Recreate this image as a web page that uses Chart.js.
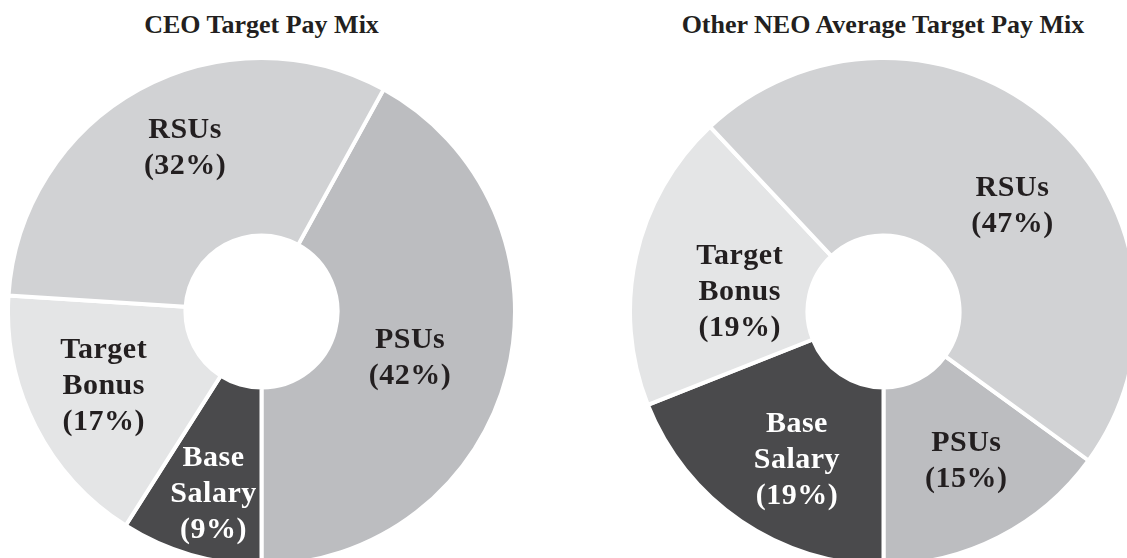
<!DOCTYPE html>
<html>
<head>
<meta charset="utf-8">
<script src="https://cdn.jsdelivr.net/npm/chart.js@4.4.1/dist/chart.umd.min.js"></script>
<style>
  html, body { margin: 0; padding: 0; background: #fff; overflow: hidden; }
  body { width: 1127px; height: 558px; position: relative; }
  .title {
    position: absolute; top: 12px; width: 600px; margin-left: -300px;
    text-align: center; font: bold 26px "Liberation Serif", "Times New Roman", serif;
    line-height: 26px; color: #231f20; white-space: nowrap;
  }
  canvas { position: absolute; }
</style>
</head>
<body>
<div class="title" style="left:261.5px">CEO Target Pay Mix</div>
<div class="title" style="left:883px">Other NEO Average Target Pay Mix</div>
<canvas id="ceoChart" width="511" height="511" style="left:6px;top:56px"></canvas>
<canvas id="neoChart" width="511" height="511" style="left:628px;top:56px"></canvas>
<script>
// pay components, clockwise from the bottom-left of the PSU slice
const components = ["PSUs", "Base Salary", "Target Bonus", "RSUs"];
const ceoMix = [42, 9, 17, 32];
const neoMix = [15, 19, 19, 47];

const sliceColors = ["#bcbdc0", "#4a4a4c", "#e4e5e6", "#d1d2d4"];
const textColors = ["#231f20", "#ffffff", "#231f20", "#231f20"];

// draws "Name\n(xx%)" inside each slice, anchored on the slice's centre point
const sliceLabels = {
  id: "sliceLabels",
  afterDatasetsDraw(chart, args, opts) {
    const ctx = chart.ctx;
    const ds = chart.data.datasets[0];
    const meta = chart.getDatasetMeta(0);
    ctx.save();
    ctx.font = opts.font;
    ctx.textAlign = "center";
    ctx.textBaseline = "middle";
    if ("letterSpacing" in ctx) ctx.letterSpacing = opts.letterSpacing;
    meta.data.forEach((arc, i) => {
      const p = arc.tooltipPosition();
      const nudge = opts.nudge[i] || [0, 0];
      const lines = chart.data.labels[i].split(" ");
      lines.push("(" + ds.data[i] + "%)");
      const top = p.y + nudge[1] - (lines.length - 1) * opts.lineHeight / 2;
      ctx.fillStyle = textColors[i];
      lines.forEach((line, j) => {
        ctx.fillText(line, p.x + nudge[0], top + j * opts.lineHeight);
      });
    });
    ctx.restore();
  }
};

function makeDoughnut(id, values, nudge) {
  return new Chart(document.getElementById(id), {
    type: "doughnut",
    data: {
      labels: components,
      datasets: [{
        data: values,
        backgroundColor: sliceColors,
        borderColor: "#ffffff",
        borderWidth: 4,
        hoverOffset: 0
      }]
    },
    options: {
      responsive: false,
      animation: false,
      cutout: "30%",
      // PSUs always end at the six o'clock position
      rotation: 180 - values[0] * 3.6,
      plugins: {
        legend: { display: false },
        tooltip: { enabled: false },
        sliceLabels: {
          font: 'bold 30px "Liberation Serif", "Times New Roman", serif',
          letterSpacing: "0.5px",
          lineHeight: 36,
          nudge: nudge
        }
      }
    },
    plugins: [sliceLabels]
  });
}

makeDoughnut("ceoChart", ceoMix, [[-11, 6], [-2, 25], [-11, 0], [3, -19]]);
makeDoughnut("neoChart", neoMix, [[8, 3], [6, 12], [17, 17], [20, 18]]);
</script>
</body>
</html>
